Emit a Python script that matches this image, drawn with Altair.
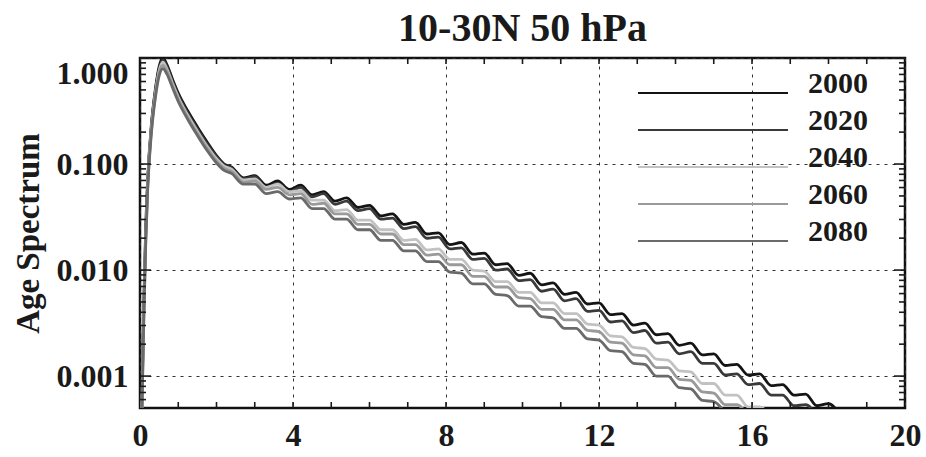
import altair as alt
import pandas as pd

FONT = "Liberation Serif"

YEARS = ["2000", "2020", "2040", "2060", "2080"]
COLORS = ["#141414", "#3a3a3a", "#c2c2c2", "#9a9a9a", "#6a6a6a"]

# ages (years): common early grid + tail grid
HEAD_X = [0.0, 0.05, 0.1, 0.15, 0.2, 0.3, 0.4, 0.5, 0.6, 0.7, 0.85, 1.0, 1.25, 1.5, 1.75, 2.0, 2.2]
TAIL_X = [2.4, 2.7, 3.0, 3.3, 3.6, 3.9, 4.2, 4.5, 4.8, 5.1, 5.4, 5.7, 6.0, 6.3, 6.6, 6.9,
          7.2, 7.5, 7.8, 8.1, 8.4, 8.7, 9.0, 9.3, 9.6, 9.9, 10.2, 10.5, 10.8, 11.1, 11.4,
          11.7, 12.0, 12.3, 12.6, 12.9, 13.2, 13.5, 13.8, 14.1, 14.4, 14.7, 15.0, 15.3,
          15.6, 15.9, 16.2, 16.5, 16.8, 17.1, 17.4, 17.7, 18.0, 18.3]

# log10 of the age spectrum
HEAD_2000 = [-4.0, -3.2, -2.3, -1.6, -1.15, -0.62, -0.3, -0.08, 0.0, -0.06, -0.2, -0.33, -0.5, -0.65, -0.79, -0.92, -1.0]
HEAD_2020 = [-4.0, -3.25, -2.35, -1.65, -1.18, -0.64, -0.32, -0.1, -0.02, -0.08, -0.22, -0.35, -0.52, -0.67, -0.81, -0.93, -1.01]
HEAD_2040 = [-4.0, -3.3, -2.4, -1.7, -1.2, -0.66, -0.34, -0.12, -0.04, -0.1, -0.24, -0.37, -0.54, -0.69, -0.83, -0.95, -1.02]
HEAD_2060 = [-4.0, -3.3, -2.42, -1.72, -1.22, -0.68, -0.36, -0.14, -0.07, -0.12, -0.26, -0.39, -0.56, -0.71, -0.85, -0.97, -1.04]
HEAD_2080 = [-4.0, -3.35, -2.45, -1.75, -1.25, -0.7, -0.38, -0.17, -0.1, -0.15, -0.28, -0.41, -0.58, -0.73, -0.87, -0.99, -1.06]

TAIL_2000 = [-1.03, -1.13, -1.11, -1.20, -1.16, -1.24, -1.20, -1.29, -1.26, -1.35, -1.32, -1.41,
             -1.39, -1.49, -1.47, -1.57, -1.55, -1.66, -1.65, -1.76, -1.74, -1.85, -1.84, -1.95,
             -1.94, -2.05, -2.03, -2.14, -2.12, -2.23, -2.21, -2.32, -2.31, -2.42, -2.41, -2.52,
             -2.50, -2.61, -2.60, -2.71, -2.69, -2.80, -2.79, -2.90, -2.89, -2.99, -2.98, -3.09,
             -3.08, -3.18, -3.17, -3.28, -3.26, -3.37]
TAIL_2020 = [-1.04, -1.14, -1.12, -1.22, -1.18, -1.26, -1.22, -1.31, -1.28, -1.38, -1.35, -1.44,
             -1.42, -1.52, -1.51, -1.61, -1.59, -1.70, -1.69, -1.80, -1.79, -1.90, -1.89, -2.00,
             -1.99, -2.10, -2.09, -2.20, -2.18, -2.29, -2.27, -2.39, -2.38, -2.49, -2.48, -2.59,
             -2.57, -2.69, -2.68, -2.79, -2.77, -2.88, -2.88, -2.99, -2.98, -3.08, -3.07, -3.18,
             -3.18, -3.28, -3.27, -3.38]
TAIL_2040 = [-1.05, -1.15, -1.14, -1.22, -1.19, -1.26, -1.25, -1.34, -1.34, -1.44, -1.43, -1.53,
             -1.53, -1.62, -1.62, -1.72, -1.71, -1.81, -1.80, -1.90, -1.90, -2.00, -2.01, -2.11,
             -2.11, -2.21, -2.21, -2.31, -2.31, -2.41, -2.41, -2.51, -2.52, -2.62, -2.63, -2.73,
             -2.74, -2.84, -2.85, -2.95, -2.96, -3.07, -3.07, -3.18, -3.18, -3.29, -3.29, -3.40]
TAIL_2060 = [-1.07, -1.17, -1.16, -1.24, -1.22, -1.29, -1.28, -1.38, -1.37, -1.47, -1.47, -1.57,
             -1.57, -1.66, -1.66, -1.76, -1.76, -1.86, -1.85, -1.95, -1.95, -2.06, -2.06, -2.16,
             -2.16, -2.26, -2.27, -2.37, -2.37, -2.47, -2.47, -2.57, -2.58, -2.68, -2.69, -2.80,
             -2.81, -2.92, -2.92, -3.03, -3.04, -3.15, -3.16, -3.27, -3.27, -3.38]
TAIL_2080 = [-1.09, -1.19, -1.19, -1.28, -1.26, -1.33, -1.32, -1.42, -1.42, -1.52, -1.52, -1.62,
             -1.62, -1.72, -1.72, -1.82, -1.82, -1.92, -1.92, -2.02, -2.03, -2.13, -2.13, -2.23,
             -2.24, -2.34, -2.34, -2.44, -2.45, -2.55, -2.55, -2.65, -2.66, -2.76, -2.77, -2.88,
             -2.89, -3.00, -3.00, -3.11, -3.12, -3.23, -3.24, -3.35]

X_TICKS = [0, 4, 8, 12, 16, 20]
X_MINOR = list(range(1, 20))
Y_TICKS = [0.001, 0.01, 0.1, 1.0]
Y_MINOR = [0.0006, 0.0007, 0.0008, 0.0009] + [k * d for d in (0.001, 0.01, 0.1) for k in range(2, 10)]

SERIES = {
    "2000": (HEAD_2000, TAIL_2000),
    "2020": (HEAD_2020, TAIL_2020),
    "2040": (HEAD_2040, TAIL_2040),
    "2060": (HEAD_2060, TAIL_2060),
    "2080": (HEAD_2080, TAIL_2080),
}

rows = []
xs_all = HEAD_X + TAIL_X
for yr, (h, t) in SERIES.items():
    logs = h + t
    for xv, lv in zip(xs_all, logs):
        rows.append({"x": xv, "v": 10 ** lv, "year": yr})
df = pd.DataFrame(rows)

W, H = 765, 350
xscale = alt.Scale(domain=[0, 20], nice=False, zero=False)
yscale = alt.Scale(type="log", domain=[0.0005, 1.0], nice=False)

main_x_axis = alt.Axis(values=X_TICKS, format="d", grid=True, gridDash=[3, 5], gridColor="#333",
                       gridWidth=1, ticks=False, tickSize=0, domain=False, labelPadding=12,
                       labelFlush=False, labelOverlap=False, title=None)
main_y_axis = alt.Axis(values=Y_TICKS, format=".3f", grid=True, gridDash=[3, 5], gridColor="#333",
                       gridWidth=1, ticks=False, tickSize=0, domain=False, labelPadding=12,
                       labelFlush=False, labelOverlap=False,
                       labelBaseline={"condition": {"test": "datum.value >= 0.9", "value": "top"},
                                      "value": "middle"},
                       title="Age Spectrum", titleX=-112, titleY=175, titleAngle=270,
                       titleBaseline="middle", titleAlign="center")

legend = alt.Legend(orient="none", legendX=558, legendY=20, title=None,
                    symbolType="M-30,0H30", symbolSize=25, symbolStrokeWidth=2,
                    labelFont=FONT, labelFontSize=30, labelFontWeight="bold", labelColor="#1a1a1a",
                    labelBaseline="alphabetic", rowPadding=7, labelOffset=80, padding=0,
                    symbolOffset=0)

lines = alt.Chart(df).mark_line(clip=True, strokeWidth=2.8, interpolate="monotone").encode(
    x=alt.X("x:Q", scale=xscale, axis=main_x_axis),
    y=alt.Y("v:Q", scale=yscale, axis=main_y_axis),
    color=alt.Color("year:N", scale=alt.Scale(domain=YEARS, range=COLORS), legend=legend),
)

xminor_df = pd.DataFrame({"x": X_MINOR})
yminor_df = pd.DataFrame({"v": Y_MINOR})
ymajor_df = pd.DataFrame({"v": Y_TICKS})
TICK = dict(color="#1a1a1a", strokeWidth=1.6)


def xticks(y0, y1):
    return alt.Chart(xminor_df).mark_rule(**TICK).encode(
        x=alt.X("x:Q", scale=xscale, axis=main_x_axis), y=alt.value(y0), y2=alt.value(y1))


def yticks(data, x0, x1):
    return alt.Chart(data).mark_rule(**TICK).encode(
        y=alt.Y("v:Q", scale=yscale, axis=main_y_axis), x=alt.value(x0), x2=alt.value(x1))


ticks = [
    xticks(H, H - 6), xticks(0, 6),
    yticks(yminor_df, 0, 6), yticks(yminor_df, W, W - 6),
    yticks(ymajor_df, 0, 11), yticks(ymajor_df, W, W - 11),
]

chart = alt.layer(lines, *ticks).properties(
    width=W, height=H,
    padding={"left": 140, "top": 58, "right": 21, "bottom": 49},
    autosize=alt.AutoSizeParams(type="none"),
    title=alt.TitleParams("10-30N 50 hPa", font=FONT, fontSize=40, fontWeight="bold",
                          color="#1a1a1a", anchor="middle", offset=8),
    background="white",
).configure_view(stroke="#111", strokeWidth=2.5).configure_axis(
    labelFont=FONT, labelFontSize=32, labelFontWeight="bold", labelColor="#1a1a1a",
    titleFont=FONT, titleFontSize=33, titleFontWeight="bold", titleColor="#1a1a1a",
)

chart.save("out.html", embed_options={"renderer": "svg", "actions": False})
